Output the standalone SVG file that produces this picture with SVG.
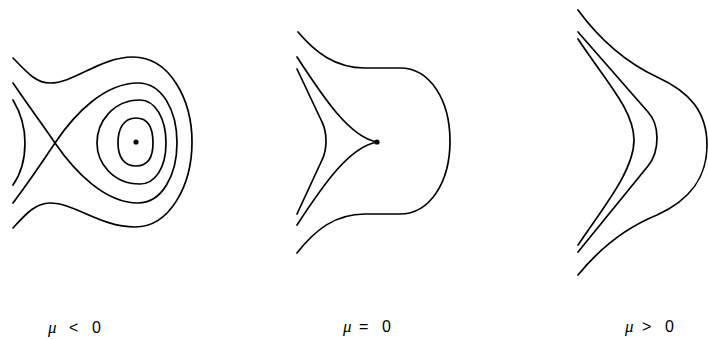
<svg xmlns="http://www.w3.org/2000/svg" width="708" height="339" viewBox="0 0 708 339">
<style>
.c{fill:none;stroke:#000;stroke-width:1.7;stroke-linecap:round;stroke-linejoin:round}
.lbl{font-family:"Liberation Sans",Arial,sans-serif;font-size:16px;fill:#000}
.mu{font-family:"Liberation Serif","Times New Roman",serif;font-style:italic;font-size:17px}
</style>
<g id="panel-neg">
<path class="c" d="M13,58 C25,70 35,83 50,83 C75,83 100,57 133,57 C170,57 192,100 192,142 C192,185 170,227 135,227 C100,227 75,203 50,203 C35,203 25,215 13,228"/>
<path class="c" d="M13,83 C30,108 45,128 55,143 C75,172 105,203 138,203 C162,203 177,175 177,143 C177,110 162,83 138,83 C105,83 75,113 55,143 C45,158 28,183 13,203"/>
<path class="c" d="M13,100 C22,115 25,130 25,143 C25,158 22,172 13,185"/>
<path class="c" d="M140,100 C155,100 166,118 166,143 C166,168 155,184 140,184 C113,184 97,163 97,143 C97,122 113,100 140,100 Z"/>
<path class="c" d="M136,118 C148,118 153,128 153,143 C153,158 148,166 136,166 C124,166 118,157 118,143 C118,128 124,118 136,118 Z"/>
<circle cx="136" cy="142" r="2.6" fill="#000"/>
<text class="lbl" x="48" y="333"><tspan class="mu">μ</tspan><tspan x="69">&lt;</tspan><tspan x="92">0</tspan></text>
</g>
<g id="panel-zero">
<path class="c" d="M298,32 C315,52 335,68 365,68 L400,68 C430,68 450,100 450,141 C450,182 430,214 400,214 L365,214 C335,214 315,230 297,253"/>
<path class="c" d="M297,57 C325,100 350,137 377,142 C350,147 325,182 297,225"/>
<path class="c" d="M297,69 L322,122 Q326,130 326,141 Q326,152 322,160 L297,214"/>
<circle cx="377" cy="142" r="2.6" fill="#000"/>
<text class="lbl" x="343" y="332"><tspan class="mu">μ</tspan><tspan x="359">=</tspan><tspan x="382">0</tspan></text>
</g>
<g id="panel-pos">
<path class="c" d="M578,10 C600,40 625,62 657,77 C690,92 707,112 707,145 C707,178 690,200 657,215 C625,228 600,248 578,275"/>
<path class="c" d="M578,32 L648,112 Q657,122 657,138 Q657,155 648,166 L578,252"/>
<path class="c" d="M578,39 C605,80 634,110 634,140 C634,170 605,205 578,245"/>
<text class="lbl" x="625" y="332"><tspan class="mu">μ</tspan><tspan x="642">&gt;</tspan><tspan x="665">0</tspan></text>
</g>
<g id="connectors"></g>
</svg>
